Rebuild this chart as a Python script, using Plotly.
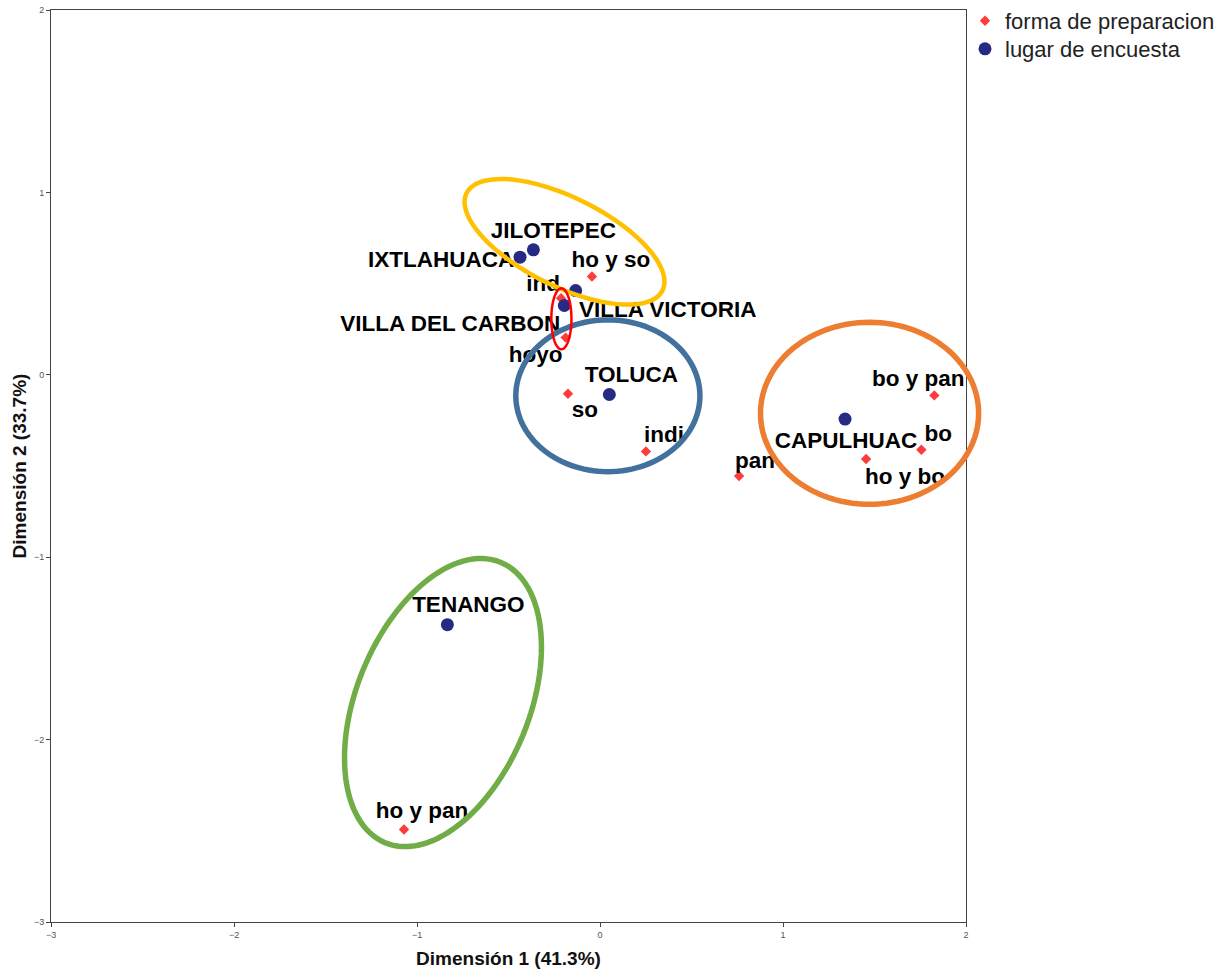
import math
import plotly.graph_objects as go

# Correspondence analysis: row and column category coordinates
lugar_labels = ["JILOTEPEC", "IXTLAHUACA", "VILLA VICTORIA", "VILLA DEL CARBON",
                "TOLUCA", "CAPULHUAC", "TENANGO"]
lugar_dim1 = [-0.364, -0.437, -0.133, -0.195, 0.051, 1.339, -0.834]
lugar_dim2 = [0.685, 0.645, 0.462, 0.380, -0.108, -0.243, -1.370]

forma_labels = ["ho y so", "ind", "hoyo", "so", "indi", "pan", "ho y bo", "bo",
                "bo y pan", "ho y pan"]
forma_dim1 = [-0.044, -0.213, -0.188, -0.175, 0.251, 0.760, 1.454, 1.756, 1.827, -1.071]
forma_dim2 = [0.539, 0.420, 0.204, -0.104, -0.420, -0.555, -0.462, -0.411, -0.113, -2.493]

# label placement relative to each point, in screen pixels (right, down)
lugar_label_offset = [(20, -17), (-79, 4), (92, 21), (-114, 20), (22, -18), (1, 23), (21, -18)]
forma_label_offset = [(19, -15), (-18, -13), (-30, 19), (17, 18), (18, -15), (16, -14),
                      (39, 19), (17, -14), (-16, -15), (18, -17)]

# group outlines: centre (dim1, dim2), semi-axes, rotation (degrees), colour, width
groups = [
    dict(cx=-0.194, cy=0.729, a=0.598, b=0.243, rot=-26.5, color="#FFC000", width=4.5),
    dict(cx=0.043, cy=-0.115, a=0.503, b=0.416, rot=0.0, color="#41719C", width=5.5),
    dict(cx=1.473, cy=-0.211, a=0.596, b=0.499, rot=0.0, color="#ED7D31", width=5.5),
    dict(cx=-0.858, cy=-1.797, a=0.831, b=0.472, rot=67.8, color="#70AD47", width=5.5),
    dict(cx=-0.211, cy=0.307, a=0.055, b=0.167, rot=0.0, color="#FF0000", width=2.5),
]

X_RANGE = [-3, 2]
Y_RANGE = [-3, 2]
W, H = 1223, 972
M = dict(l=51, r=257, t=10, b=50)
plot_w = W - M["l"] - M["r"]
plot_h = H - M["t"] - M["b"]
sx = plot_w / (X_RANGE[1] - X_RANGE[0])
sy = plot_h / (Y_RANGE[1] - Y_RANGE[0])

FONT = "Liberation Sans, Arial, sans-serif"

fig = go.Figure()

fig.add_trace(go.Scatter(
    x=forma_dim1, y=forma_dim2, mode="markers", name="forma de preparacion",
    marker=dict(symbol="diamond", size=8, color="#FF3B3B"),
    hovertext=forma_labels, cliponaxis=True, legend="legend",
))
fig.add_trace(go.Scatter(
    x=lugar_dim1, y=lugar_dim2, mode="markers", name="lugar de encuesta",
    marker=dict(symbol="circle", size=13, color="#262A82"),
    hovertext=lugar_labels, cliponaxis=True, legend="legend2",
))


def label_trace(xs, ys, labels, offsets):
    tx = [x + dx / sx for x, (dx, dy) in zip(xs, offsets)]
    ty = [y - dy / sy for y, (dx, dy) in zip(ys, offsets)]
    return go.Scatter(
        x=tx, y=ty, mode="text", text=labels, textposition="middle center",
        textfont=dict(family=FONT, size=22.5, color="#000000", weight="bold"),
        showlegend=False, hoverinfo="skip", cliponaxis=True,
    )


fig.add_trace(label_trace(lugar_dim1, lugar_dim2, lugar_labels, lugar_label_offset))
fig.add_trace(label_trace(forma_dim1, forma_dim2, forma_labels, forma_label_offset))


def to_paper(x, y):
    return ((x - X_RANGE[0]) / (X_RANGE[1] - X_RANGE[0]),
            (y - Y_RANGE[0]) / (Y_RANGE[1] - Y_RANGE[0]))


shapes = []
for g in groups:
    r = math.radians(g["rot"])
    pts = []
    for k in range(121):
        t = 2 * math.pi * k / 120
        ex = g["a"] * math.cos(t)
        ey = g["b"] * math.sin(t)
        x = g["cx"] + ex * math.cos(r) - ey * math.sin(r)
        y = g["cy"] + ex * math.sin(r) + ey * math.cos(r)
        pts.append(to_paper(x, y))
    path = "M " + " L ".join(f"{px:.5f},{py:.5f}" for px, py in pts) + " Z"
    shapes.append(dict(type="path", xref="paper", yref="paper", path=path,
                       line=dict(color=g["color"], width=g["width"]), layer="above"))

axis_common = dict(
    showgrid=False, zeroline=False, showline=True, linecolor="#444444", linewidth=1,
    mirror=True, ticks="outside", ticklen=4, tickcolor="#444444", tickwidth=1,
    tickfont=dict(family=FONT, size=9, color="#555555"), dtick=1, automargin=False,
)

legend_style = dict(xanchor="left", yanchor="top",
                    font=dict(family=FONT, size=22, color="#222222"),
                    itemwidth=30, bgcolor="rgba(0,0,0,0)")

fig.update_layout(
    width=W, height=H, margin=dict(M, autoexpand=False),
    paper_bgcolor="white", plot_bgcolor="white",
    xaxis=dict(range=X_RANGE, tick0=-3,
               title=dict(text="<b>Dimensión 1 (41.3%)</b>", standoff=12,
                          font=dict(family=FONT, size=19, color="#111111")),
               **axis_common),
    yaxis=dict(range=Y_RANGE, tick0=-3,
               title=dict(text="<b>Dimensión 2 (33.7%)</b>", standoff=2,
                          font=dict(family=FONT, size=19, color="#111111")),
               **axis_common),
    legend=dict(x=1.0 - 1 / plot_w, y=1.0 + 10 / plot_h, **legend_style),
    legend2=dict(x=1.0 - 1 / plot_w, y=1.0 - 18 / plot_h, **legend_style),
    shapes=shapes,
    showlegend=True,
)

fig.write_html("out.html")
